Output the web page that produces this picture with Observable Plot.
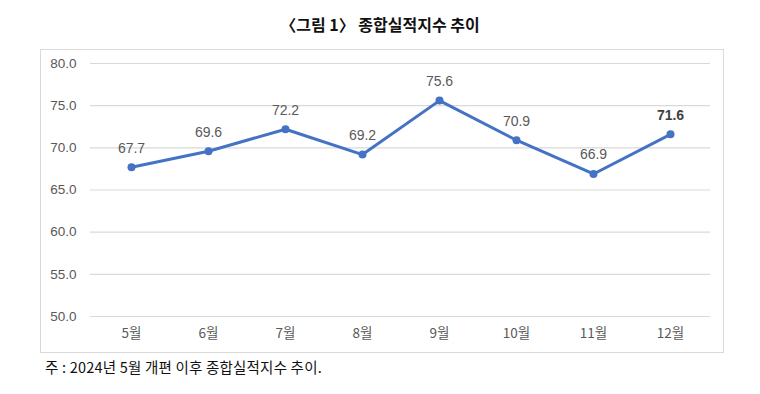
<!DOCTYPE html>
<html><head><meta charset="utf-8">
<script src="https://cdn.jsdelivr.net/npm/d3@7"></script>
<script src="https://cdn.jsdelivr.net/npm/@observablehq/plot@0.6"></script>
<style>
body{margin:0;width:760px;height:394px;background:#fff;position:relative;overflow:hidden;font-family:"Liberation Sans","Noto Sans CJK KR",sans-serif;}
#title{position:absolute;left:0;top:13px;width:760px;text-align:center;font-family:"Noto Sans CJK KR",sans-serif;font-weight:bold;font-size:16px;color:#111;line-height:22px;}
#box{position:absolute;left:40px;top:49px;width:682px;height:302px;border:1px solid #d9d9d9;}
#caption{position:absolute;left:45px;top:357px;font-family:"Noto Sans CJK KR",sans-serif;font-size:14.5px;color:#111;line-height:20px;letter-spacing:0.2px;}
</style></head><body>
<div id="title">〈그림 1〉 종합실적지수 추이</div>
<div id="box"></div>
<div id="caption">주 : 2024년 5월 개편 이후 종합실적지수 추이.</div>
<script>
const months = ["5월","6월","7월","8월","9월","10월","11월","12월"];
const values = [67.7, 69.6, 72.2, 69.2, 75.6, 70.9, 66.9, 71.6];
const yTicks = [50, 55, 60, 65, 70, 75, 80];
const data = months.map((m,i)=>({m, v: values[i], last: i === months.length-1}));

const chart = Plot.plot({
  width: 682, height: 302,
  marginLeft: 49, marginRight: 13, marginTop: 13, marginBottom: 36,
  style: {fontFamily: '"Liberation Sans","Noto Sans CJK KR",sans-serif', fontSize: "13px", background: "transparent", overflow: "visible"},
  x: {type: "point", domain: months, padding: 0.5, label: null},
  y: {domain: [50, 80], ticks: yTicks, label: null},
  marks: [
    Plot.ruleY(yTicks, {stroke: "#d9d9d9", strokeWidth: 1.2}),
    Plot.axisY({ticks: yTicks, tickSize: 0, tickPadding: 14, tickFormat: d => d.toFixed(1), fill: "#595959", fontSize: 13.5}),
    Plot.axisX({tickSize: 0, tickPadding: 12, fill: "#595959", fontSize: 13.5, fontFamily: '"Noto Sans CJK KR",sans-serif'}),
    Plot.line(data, {x: "m", y: "v", stroke: "#4472C4", strokeWidth: 3, curve: "linear"}),
    Plot.dot(data, {x: "m", y: "v", fill: "#4472C4", r: 4}),
    Plot.text(data.filter(d=>!d.last), {x: "m", y: "v", text: d => d.v.toFixed(1), dy: -19, fill: "#595959", fontSize: 14}),
    Plot.text(data.filter(d=>d.last), {x: "m", y: "v", text: d => d.v.toFixed(1), dy: -19, fill: "#404040", fontSize: 14, fontWeight: "bold"})
  ]
});
document.getElementById("box").appendChild(chart);
</script>
</body></html>
